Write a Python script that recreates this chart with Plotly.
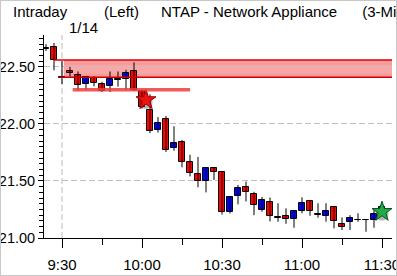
import plotly.graph_objects as go

day = "2004-01-14 "
times = ["09:24","09:27","09:30","09:33","09:36","09:39","09:42","09:45","09:48","09:51",
         "09:54","09:57","10:00","10:03","10:06","10:09","10:12","10:15","10:18","10:21",
         "10:24","10:27","10:30","10:33","10:36","10:39","10:42","10:45","10:48","10:51",
         "10:54","10:57","11:00","11:03","11:06","11:09","11:12","11:15","11:18","11:21",
         "11:24","11:27","11:30"]
opens  = [22.655,22.675,22.410,22.460,22.430,22.350,22.400,22.350,22.335,22.385,
          22.390,22.460,22.290,22.120,21.950,22.040,21.790,21.840,21.665,21.560,
          21.500,21.610,21.576,21.225,21.370,21.450,21.385,21.245,21.315,21.180,
          21.195,21.165,21.240,21.325,21.210,21.190,21.270,21.120,21.137,21.160,
          21.160,21.158,21.245]
highs  = [22.700,22.710,22.550,22.500,22.460,22.420,22.420,22.370,22.460,22.460,
          22.475,22.540,22.300,22.260,22.060,22.070,21.980,21.860,21.730,21.710,
          21.615,21.615,21.580,21.360,21.465,21.495,21.405,21.360,21.355,21.305,
          21.260,21.245,21.357,21.330,21.305,21.305,21.270,21.180,21.200,21.217,
          21.160,21.245,21.305]
lows   = [22.640,22.470,22.350,22.415,22.290,22.300,22.330,22.280,22.280,22.327,
          22.300,22.290,22.135,21.920,21.925,21.755,21.765,21.620,21.540,21.445,
          21.400,21.510,21.205,21.215,21.295,21.320,21.200,21.230,21.145,21.143,
          21.125,21.090,21.217,21.195,21.178,21.143,21.085,21.070,21.070,21.143,
          21.055,21.090,21.220]
closes = [22.670,22.560,22.405,22.445,22.340,22.410,22.360,22.290,22.390,22.390,
          22.445,22.300,22.150,21.940,22.005,21.770,21.835,21.670,21.570,21.500,
          21.610,21.580,21.225,21.357,21.435,21.405,21.290,21.333,21.190,21.175,
          21.167,21.237,21.305,21.240,21.205,21.237,21.150,21.095,21.178,21.155,
          21.155,21.208,21.275]

band_low, band_high = 22.41, 22.56
support_level = 22.30
signal_times = ["10:01:30", "11:30"]
signal_prices = [22.21, 21.23]
ytick_vals = [21.00, 21.50, 22.00, 22.50]
ytick_text = ["21.00", "21.50", "22.00", "22.50"]

x = [day + t for t in times]
FONT = "Liberation Sans, Arial, sans-serif"

fig = go.Figure()

# red resistance band
fig.add_shape(type="rect", xref="x", yref="y", x0=day + "09:30:40", x1=day + "11:40",
              y0=band_low, y1=band_high, fillcolor="rgba(238,90,90,0.6)",
              line=dict(width=0), layer="below")
fig.add_shape(type="rect", xref="x", yref="y", x0=day + "09:30:40", x1=day + "11:40",
              y0=band_low + 0.03, y1=band_high - 0.045, fillcolor="rgba(252,175,175,0.55)",
              line=dict(width=0), layer="below")
fig.add_shape(type="line", xref="x", yref="y", x0=day + "09:27", x1=day + "11:40",
              y0=band_high, y1=band_high, line=dict(color="#e00000", width=1.5))
fig.add_shape(type="line", xref="x", yref="y", x0=day + "09:29", x1=day + "11:40",
              y0=band_low, y1=band_low, line=dict(color="#d00000", width=1.5))
# support line
fig.add_shape(type="line", xref="x", yref="y", x0=day + "09:34", x1=day + "10:18",
              y0=support_level, y1=support_level,
              line=dict(color="rgba(240,60,60,0.85)", width=3.5))
# 9:30 separator
fig.add_shape(type="line", xref="x", yref="paper", x0=day + "09:30", x1=day + "09:30",
              y0=0, y1=1, line=dict(color="#bdbdbd", width=1, dash="6px,3px"), layer="below")

# wicks
wx, wy = [], []
for t, h, l in zip(x, highs, lows):
    wx += [t, t, None]
    wy += [h, l, None]
fig.add_trace(go.Scatter(x=wx, y=wy, mode="lines", line=dict(color="black", width=1),
                         showlegend=False, hoverinfo="skip"))

# bodies
base = [min(o, c) for o, c in zip(opens, closes)]
height = [max(abs(c - o), 0.003) for o, c in zip(opens, closes)]
colors = ["#0000ff" if c >= o else "#ff0000" for o, c in zip(opens, closes)]
fig.add_trace(go.Bar(x=x, y=height, base=base, width=3 * 60 * 1000 * 0.68,
                     marker=dict(color=colors, line=dict(color="black", width=1)),
                     showlegend=False, hoverinfo="skip"))

# signal markers (shadow + star)
fig.add_trace(go.Scatter(
    x=[day + t for t in signal_times], y=[p - 0.02 for p in signal_prices], mode="markers",
    marker=dict(symbol="circle", size=13, color="rgba(40,40,40,0.35)", line=dict(width=0)),
    showlegend=False, hoverinfo="skip"))
fig.add_trace(go.Scatter(
    x=[day + t for t in signal_times], y=signal_prices, mode="markers",
    marker=dict(symbol="star", size=15, color=["#ee1111", "#22aa44"],
                line=dict(color=["#990000", "#005522"], width=1)),
    showlegend=False, hoverinfo="skip"))

fig.update_layout(
    width=397, height=276,
    margin=dict(l=44, r=5, t=35, b=38, autoexpand=False),
    paper_bgcolor="white", plot_bgcolor="white",
    font=dict(family=FONT, size=15, color="black"),
    showlegend=False, bargap=0,
    xaxis=dict(
        type="date", range=[day + "09:23:15", day + "11:33:45"],
        automargin=False,
        showgrid=False, zeroline=False,
        showline=True, linecolor="black", linewidth=1,
        ticks="outside", ticklen=9, tickcolor="black",
        tickformat="%-H:%M", dtick=30 * 60 * 1000, tick0=day + "09:30",
        ticklabeloverflow="allow", ticklabelstandoff=4,
        minor=dict(dtick=15 * 60 * 1000, tick0=day + "09:30", ticks="outside",
                   ticklen=6, tickcolor="black", showgrid=False),
        tickfont=dict(size=15, family=FONT),
    ),
    yaxis=dict(
        range=[21.0, 22.78], automargin=False,
        showline=True, linecolor="black", linewidth=1,
        tickvals=ytick_vals, ticktext=ytick_text,
        ticks="outside", ticklen=5, tickcolor="black",
        showgrid=True, gridcolor="#c0c0c0", griddash="6px,3px", gridwidth=1,
        zeroline=False, ticklabeloverflow="allow",
        minor=dict(dtick=0.05, tick0=21.0, ticks="outside", ticklen=4,
                   tickcolor="black", showgrid=False),
        tickfont=dict(size=14.5, family=FONT),
    ),
)

# title texts
X0, Y0 = -44 / 348, 1 + 35 / 203
fig.add_annotation(text="Intraday", xref="paper", yref="paper", x=X0, y=Y0,
                   xanchor="left", yanchor="top", showarrow=False, xshift=11, yshift=-1,
                   font=dict(size=15, family=FONT))
fig.add_annotation(text="(Left)", xref="paper", yref="paper", x=X0, y=Y0,
                   xanchor="left", yanchor="top", showarrow=False, xshift=102, yshift=-1,
                   font=dict(size=15, family=FONT))
fig.add_annotation(text="NTAP - Network Appliance&nbsp;&nbsp;&nbsp;&nbsp;&nbsp;&nbsp;(3-Minute)",
                   xref="paper", yref="paper", x=X0, y=Y0,
                   xanchor="left", yanchor="top", showarrow=False, xshift=159, yshift=-1,
                   font=dict(size=15, family=FONT))
fig.add_annotation(text="1/14", xref="paper", yref="paper", x=X0, y=Y0,
                   xanchor="left", yanchor="top", showarrow=False, xshift=67, yshift=-17,
                   font=dict(size=15, family=FONT))

# window border
fig.add_shape(type="rect", xref="paper", yref="paper", x0=X0, x1=1 + 5 / 348,
              y0=-38 / 203, y1=Y0, line=dict(color="#c8c8c8", width=2))

fig.write_html("out.html")
